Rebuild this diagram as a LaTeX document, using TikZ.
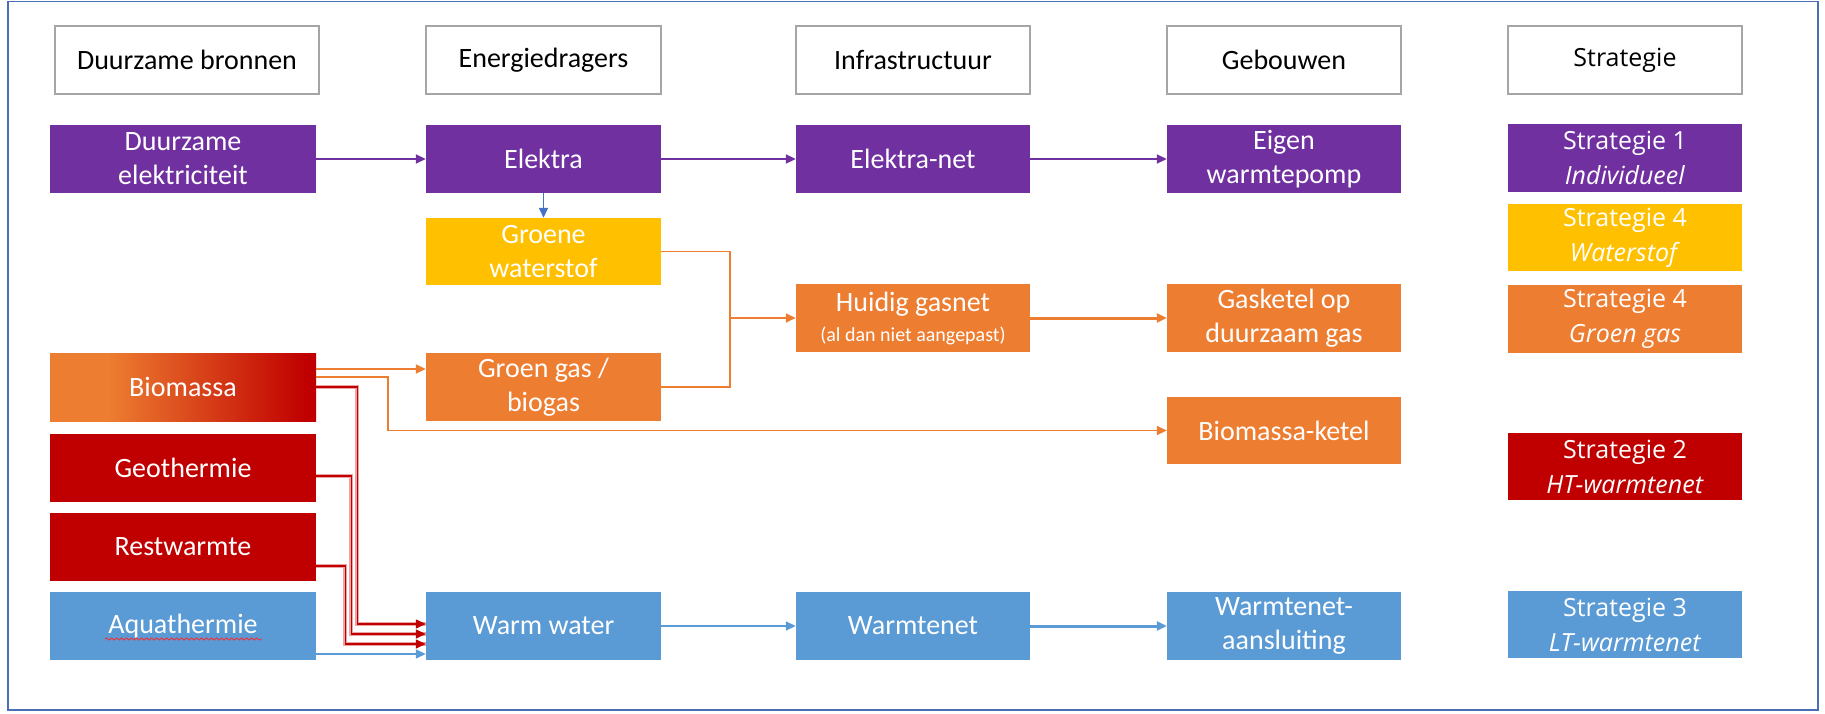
\documentclass[tikz,border=0pt]{standalone}
\usepackage{fontspec}
\setmainfont{Carlito}
\newfontfamily\osans{Open Sans}
\usetikzlibrary{arrows.meta,decorations.pathmorphing}
\definecolor{cPurple}{HTML}{7030A0}
\definecolor{cYellow}{HTML}{FFC000}
\definecolor{cOrange}{HTML}{ED7D31}
\definecolor{cRed}{HTML}{C00000}
\definecolor{cBlue}{HTML}{5B9BD5}
\definecolor{cDBlue}{HTML}{4472C4}
\definecolor{cGray}{HTML}{A5A5A5}
\definecolor{cFrame}{HTML}{4A6FB5}
\definecolor{cPink}{HTML}{EBA5A5}
\pgfdeclarehorizontalshading{biograd}{100bp}{color(0bp)=(cOrange); color(25bp)=(cOrange); color(36bp)=(cOrange); color(73bp)=(cRed); color(100bp)=(cRed)}
\begin{document}
\begin{tikzpicture}[x=1pt,y=-1pt,
  box/.style={draw=none, inner sep=0pt, minimum height=68pt, align=center, text=white, font=\fontsize{28}{34}\selectfont},
  hdr/.style={box, draw=cGray, line width=1.5pt, fill=white, text=black},
  sbox/.style={box, font=\osans\fontsize{25}{35}\selectfont},
  tip/.style={-{Triangle[length=10pt,width=9pt]}},
  conn/.style={tip, line width=1.8pt},
  redconn/.style={conn, draw=cRed, line width=1.4pt, preaction={draw=cPink, line width=4pt, -}}
]
\useasboundingbox (0,0) rectangle (1825,714);
\draw[cFrame, line width=1.5pt] (8,1.5) rectangle (1818,710);
% headers
\node[hdr, minimum width=264pt] (h1) at (187,60) {Duurzame bronnen};
\node[hdr, minimum width=235pt] (h2) at (543.5,60) {Energiedragers};
\node[hdr, minimum width=234pt] (h3) at (913,60) {Infrastructuur};
\node[hdr, minimum width=234pt] (h4) at (1284,60) {Gebouwen};
\node[hdr, minimum width=234pt, font=\osans\fontsize{25}{35}\selectfont] (h5) at (1625,60) {Strategie};
% column 1
\node[box, fill=cPurple, minimum width=266pt] (de) at (183,159) {Duurzame\\elektriciteit};
\node[box, shading=biograd, minimum width=266pt] (bio) at (183,387) {Biomassa};
\node[box, fill=cRed, minimum width=266pt] (geo) at (183,468) {Geothermie};
\node[box, fill=cRed, minimum width=266pt] (rest) at (183,547) {Restwarmte};
\node[box, fill=cBlue, minimum width=266pt] (aqua) at (183,626) {Aquathermie};
% column 2
\node[box, fill=cPurple, minimum width=235pt] (elektra) at (543.5,159) {Elektra};
\node[box, fill=cYellow, minimum width=235pt, minimum height=67pt] (groene) at (543.5,251.5) {Groene\\waterstof};
\node[box, fill=cOrange, minimum width=235pt] (groengas) at (543.5,387) {Groen gas /\\biogas};
\node[box, fill=cBlue, minimum width=235pt] (warmwater) at (543.5,626) {Warm water};
% column 3
\node[box, fill=cPurple, minimum width=234pt] (elektranet) at (913,159) {Elektra-net};
\node[box, fill=cOrange, minimum width=234pt] (huidig) at (913,318) {Huidig gasnet\\[-4pt]{\fontsize{20}{24}\selectfont (al dan niet aangepast)}};
\node[box, fill=cBlue, minimum width=234pt] (warmtenet) at (913,626) {Warmtenet};
% column 4
\node[box, fill=cPurple, minimum width=234pt] (eigen) at (1284,159) {Eigen\\warmtepomp};
\node[box, fill=cOrange, minimum width=234pt] (gasketel) at (1284,318) {Gasketel op\\duurzaam gas};
\node[box, fill=cOrange, minimum width=234pt, minimum height=67pt] (bioketel) at (1284,430.5) {Biomassa-ketel};
\node[box, fill=cBlue, minimum width=234pt] (aansl) at (1284,626) {Warmtenet-\\aansluiting};
% column 5
\node[sbox, fill=cPurple, minimum width=234pt] (s1) at (1625,158) {Strategie 1\\\textit{Individueel}};
\node[sbox, fill=cYellow, minimum width=234pt, minimum height=67pt] (s4w) at (1625,237.5) {Strategie 4\\\textit{Waterstof}};
\node[sbox, fill=cOrange, minimum width=234pt] (s4g) at (1625,319) {Strategie 4\\\textit{Groen gas}};
\node[sbox, fill=cRed, minimum width=234pt, minimum height=67pt] (s2) at (1625,466.5) {Strategie 2\\\textit{HT-warmtenet}};
\node[sbox, fill=cBlue, minimum width=234pt, minimum height=67pt] (s3) at (1625,624.5) {Strategie 3\\\textit{LT-warmtenet}};
% spelling underline
\draw[red!85!white, line width=0.8pt, decorate, decoration={snake, segment length=5pt, amplitude=1.1pt}] ([xshift=-78pt,yshift=-13pt]aqua.center) -- ([xshift=79pt,yshift=-13pt]aqua.center);
% connectors
\coordinate (jn) at (730,318);
\draw[conn, cPurple] (de.east) -- (elektra.west);
\draw[conn, cPurple] (elektra.east) -- (elektranet.west);
\draw[conn, cPurple] (elektranet.east) -- (eigen.west);
\draw[conn, cDBlue, line width=1.5pt] (elektra.south) -- (groene.north);
\draw[conn, cOrange, line width=1.5pt] (groene.east) -| (jn) -- (huidig.west);
\draw[cOrange, line width=1.5pt] (groengas.east) -| (jn);
\draw[conn, cOrange, line width=3pt] (huidig.east) -- (gasketel.west);
\draw[conn, cOrange, line width=1.5pt] ([yshift=18pt]bio.east) -- ([yshift=18pt]groengas.west);
\draw[conn, cOrange, line width=1.5pt] ([yshift=10pt]bio.east) -- ++(72pt,0) |- (bioketel.west);
\draw[redconn] (bio.east) -- ++(41pt,0) |- ([yshift=2pt]warmwater.west);
\draw[redconn] ([yshift=-8pt]geo.east) -- ++(35pt,0) |- ([yshift=-8pt]warmwater.west);
\draw[redconn] ([yshift=-19pt]rest.east) -- ++(29pt,0) |- ([yshift=-18pt]warmwater.west);
\draw[conn, cBlue, line width=1.5pt] ([yshift=-28pt]aqua.east) -- ([yshift=-28pt]warmwater.west);
\draw[conn, cBlue, line width=1.5pt] (warmwater.east) -- (warmtenet.west);
\draw[conn, cBlue, line width=3pt] (warmtenet.east) -- (aansl.west);
\end{tikzpicture}
\end{document}
